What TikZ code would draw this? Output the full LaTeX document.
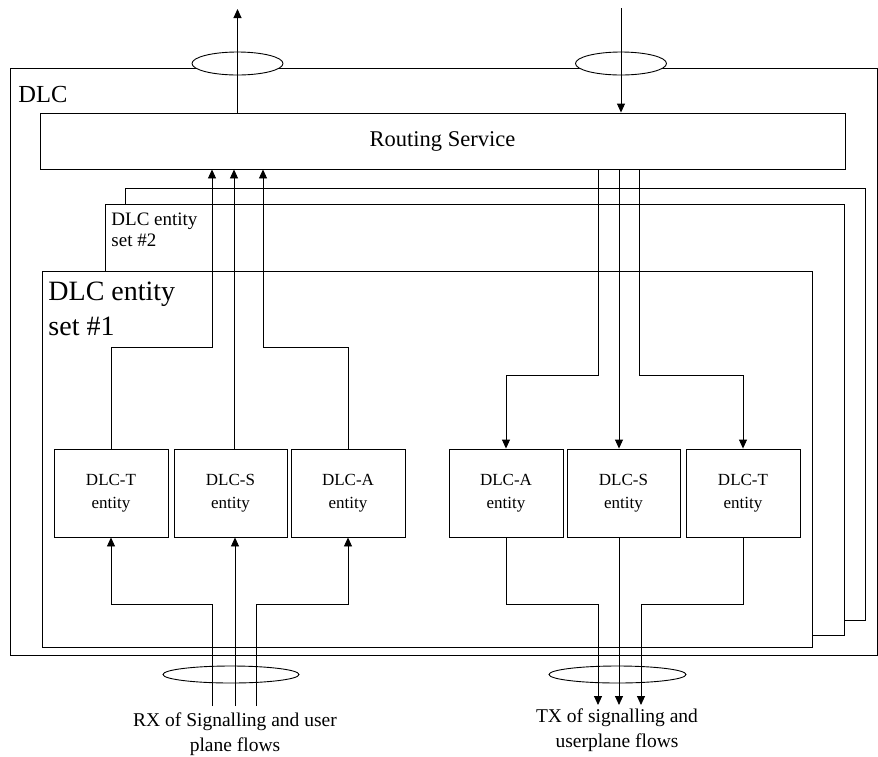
\documentclass[tikz,border=0pt]{standalone}
\usepackage{fontspec}
\setmainfont{Liberation Serif}
\usetikzlibrary{shapes.geometric,arrows.meta}
\begin{document}
\begin{tikzpicture}[x=1pt,y=-1pt,
 line width=0.9pt,
 arr/.style={-{Triangle[length=9pt,width=8pt]}},
 ebox/.style={draw,fill=white,minimum width=114pt,minimum height=88pt,inner sep=0pt,align=center,font=\fontsize{17}{23}\selectfont},
 setbox/.style={draw,fill=white,inner sep=0pt},
 bundle/.style={draw,ellipse,fill=white,inner sep=0pt},
 lbl/.style={align=center,font=\fontsize{19.5}{25}\selectfont}
]
\useasboundingbox (0,0) rectangle (878,756);
% outer boxes
\node[setbox, minimum width=867pt, minimum height=587pt] (dlc) at (443.5,361.5) {};
\node[anchor=west, font=\fontsize{24.5}{30}\selectfont, inner sep=0pt] (dlclbl) at (18,95) {DLC};
\node[setbox, minimum width=740pt, minimum height=432pt] (set3) at (495,404) {};
\node[setbox, minimum width=739pt, minimum height=431pt] (set2) at (474.5,419.5) {};
\node[anchor=north west, align=left, font=\fontsize{19}{21}\selectfont, inner sep=0pt] (s2lbl) at (111,212) {DLC entity\\set \#2};
\node[setbox, minimum width=770pt, minimum height=376pt] (set1) at (427,459) {};
\node[anchor=north west, align=left, font=\fontsize{28}{35}\selectfont, inner sep=0pt] (s1lbl) at (48,282) {DLC entity\\set \#1};
% routing
\node[setbox, minimum width=805pt, minimum height=56pt, font=\fontsize{22.5}{24}\selectfont] (rs) at (442.5,141) {Routing Service};
% entities
\node[ebox] (lt) at (111,493) {DLC-T\\entity};
\node[ebox, minimum width=113pt] (ls) at (230.5,493) {DLC-S\\entity};
\node[ebox] (la) at (348,493) {DLC-A\\entity};
\node[ebox] (ra) at (506,493) {DLC-A\\entity};
\node[ebox, minimum width=113pt] (rs2) at (623.5,493) {DLC-S\\entity};
\node[ebox] (rt) at (743,493) {DLC-T\\entity};
% bundles
\node[bundle, minimum width=91pt, minimum height=23pt] (eu) at (237.5,63.5) {};
\node[bundle, minimum width=91pt, minimum height=23pt] (ed) at (621,63.5) {};
\node[bundle, minimum width=136pt, minimum height=17pt] (ebl) at (231,674.5) {};
\node[bundle, minimum width=137pt, minimum height=17pt] (ebr) at (617.5,674.5) {};
% top flows
\coordinate (outtop) at (237.5,9);
\coordinate (intop) at (621,8);
\draw[arr] (rs.north -| eu) -- (outtop);
\draw[arr] (intop) -- (rs.north -| ed);
% left up flows
\draw[arr] (lt.north) -- (lt.north |- 0,347) -| (rs.south -| 212,0);
\draw[arr] (ls.north -| 234,0) -- (rs.south -| 234,0);
\draw[arr] (la.north) -- (la.north |- 0,347) -| (rs.south -| 263,0);
% left bottom flows
\coordinate (rx1) at (212,706);
\coordinate (rx2) at (235,706);
\coordinate (rx3) at (256,706);
\draw[arr] (rx1) -- (rx1 |- 0,604) -| (lt.south);
\draw[arr] (rx2) -- (ls.south -| rx2);
\draw[arr] (rx3) -- (rx3 |- 0,604) -| (la.south);
% right down flows
\draw[arr] (rs.south -| 598,0) -- (598,375) -| (ra.north);
\draw[arr] (rs.south -| 619,0) -- (rs2.north -| 619,0);
\draw[arr] (rs.south -| 639,0) -- (639,375) -| (rt.north);
% right bottom flows
\coordinate (tx1) at (598,705);
\coordinate (tx2) at (619,705);
\coordinate (tx3) at (641,705);
\draw[arr] (ra.south) |- (tx1 |- 0,604) -- (tx1);
\draw[arr] (rs2.south -| tx2) -- (tx2);
\draw[arr] (rt.south) |- (tx3 |- 0,604) -- (tx3);
% labels
\node[lbl] (rxl) at (235,734.5) {RX of Signalling and user\\plane flows};
\node[lbl] (txl) at (617,730) {TX of signalling and\\userplane flows};
\end{tikzpicture}
\end{document}
